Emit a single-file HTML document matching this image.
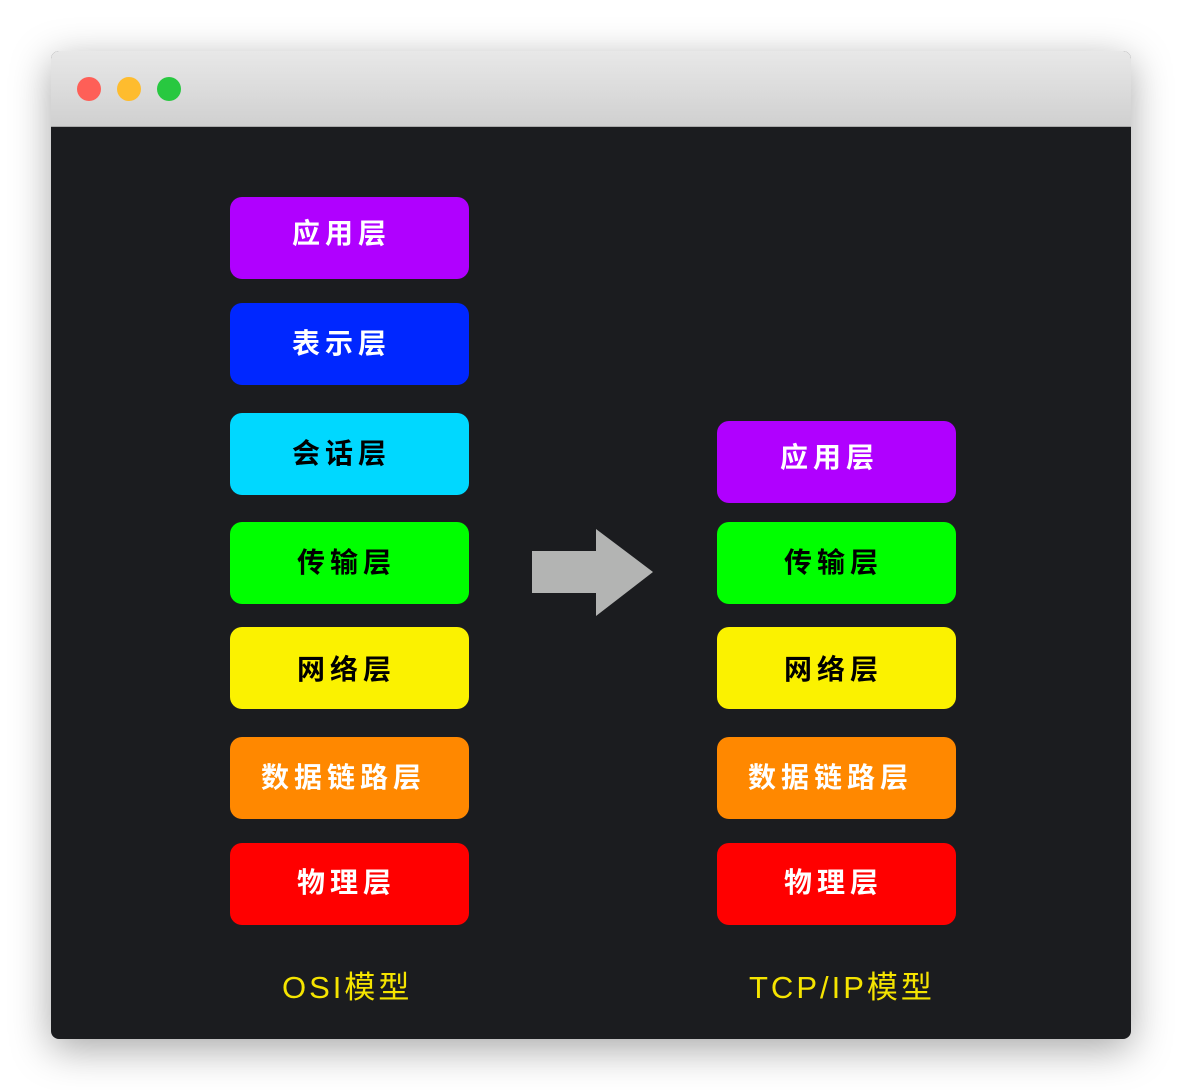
<!DOCTYPE html>
<html><head><meta charset="utf-8"><style>
body{margin:0;width:1182px;height:1090px;background:#fff;position:relative;overflow:hidden;font-family:"Liberation Sans","Noto Sans CJK SC",sans-serif}
.win{position:absolute;left:51px;top:51px;width:1080px;height:988px;border-radius:8px;background:#1b1c1f;box-shadow:0 10px 40px rgba(0,0,0,.35);overflow:hidden}
.tb{position:absolute;left:0;top:0;width:100%;height:75px;background:linear-gradient(#e8e8e8,#d0d0d0);border-bottom:1px solid #aaa}
.d{position:absolute;top:26px;width:24px;height:24px;border-radius:50%}
.b{position:absolute;width:239px;height:82px;border-radius:12px}
.t{position:absolute;font-size:28px;line-height:30px;letter-spacing:5px;white-space:nowrap;font-weight:bold;margin-top:2px}
.l{position:absolute;font-size:31px;color:#f5e400;letter-spacing:3px;white-space:nowrap}
</style></head><body>
<div class="win"><div class="tb">
<div class="d" style="left:26px;background:#fe5f57"></div>
<div class="d" style="left:66px;background:#febc2e"></div>
<div class="d" style="left:106px;background:#28c840"></div>
</div></div>

<div class="b" style="left:230px;top:197px;background:#b000ff"></div><div class="t" style="left:292px;top:217px;color:#fff">应用层</div>
<div class="b" style="left:230px;top:303px;background:#0027ff"></div><div class="t" style="left:292px;top:327px;color:#fff">表示层</div>
<div class="b" style="left:230px;top:413px;background:#00d8ff"></div><div class="t" style="left:292px;top:437px;color:#000">会话层</div>
<div class="b" style="left:230px;top:522px;background:#00ff00"></div><div class="t" style="left:297px;top:546px;color:#000">传输层</div>
<div class="b" style="left:230px;top:627px;background:#fbf200"></div><div class="t" style="left:297px;top:653px;color:#000">网络层</div>
<div class="b" style="left:230px;top:737px;background:#ff8800"></div><div class="t" style="left:261px;top:761px;color:#fff">数据链路层</div>
<div class="b" style="left:230px;top:843px;background:#ff0000"></div><div class="t" style="left:297px;top:866px;color:#fff">物理层</div>

<div class="b" style="left:717px;top:421px;background:#b000ff"></div><div class="t" style="left:780px;top:441px;color:#fff">应用层</div>
<div class="b" style="left:717px;top:522px;background:#00ff00"></div><div class="t" style="left:784px;top:546px;color:#000">传输层</div>
<div class="b" style="left:717px;top:627px;background:#fbf200"></div><div class="t" style="left:784px;top:653px;color:#000">网络层</div>
<div class="b" style="left:717px;top:737px;background:#ff8800"></div><div class="t" style="left:748px;top:761px;color:#fff">数据链路层</div>
<div class="b" style="left:717px;top:843px;background:#ff0000"></div><div class="t" style="left:784px;top:866px;color:#fff">物理层</div>

<svg style="position:absolute;left:0;top:0" width="1182" height="1090"><polygon points="532,551 596,551 596,529 653,572 596,616 596,593 532,593" fill="#b3b4b3"/></svg>

<div class="l" style="left:282px;top:962px">OSI模型</div>
<div class="l" style="left:749px;top:962px">TCP/IP模型</div>
</body></html>
